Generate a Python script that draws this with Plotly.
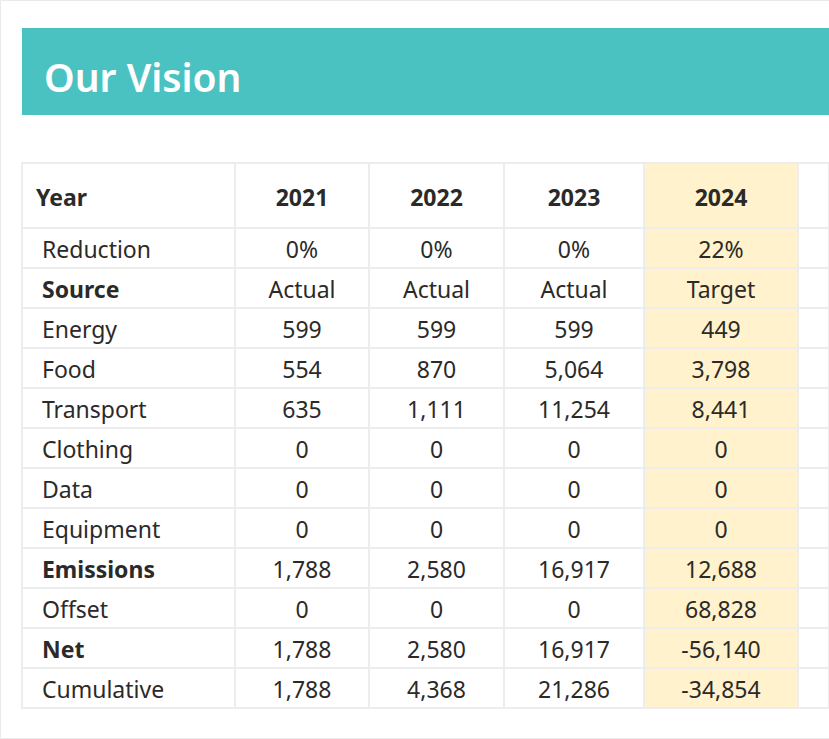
import plotly.graph_objects as go

W, H = 829, 739

years = ["2021", "2022", "2023", "2024"]
row_labels = ["Reduction", "Source", "Energy", "Food", "Transport", "Clothing",
              "Data", "Equipment", "Emissions", "Offset", "Net", "Cumulative"]
bold_rows = ["Source", "Emissions", "Net"]
col_2021 = ["0%", "Actual", "599", "554", "635", "0", "0", "0", "1,788", "0", "1,788", "1,788"]
col_2022 = ["0%", "Actual", "599", "870", "1,111", "0", "0", "0", "2,580", "0", "2,580", "4,368"]
col_2023 = ["0%", "Actual", "599", "5,064", "11,254", "0", "0", "0", "16,917", "0", "16,917", "21,286"]
col_2024 = ["22%", "Target", "449", "3,798", "8,441", "0", "0", "0", "12,688", "68,828", "-56,140", "-34,854"]

teal = "#4BC2C2"
target_fill = "#FFF2CC"
grid = "#EDEDED"
ink = "#2B2A29"
clear = "rgba(0,0,0,0)"

pad = "\u00a0" * 2
plain_labels = ["" if r in bold_rows else pad + r for r in row_labels]
bold_labels = [pad + r if r in bold_rows else "" for r in row_labels]
n = len(row_labels)

widths = [213, 134, 135, 140, 154, 31]
x0 = 22 / W
top, head_h, row_h = 163, 65, 40
head_shift, cell_shift = 10, 5      # plotly top-aligns text; nudge it to sit centred
aligns = ["left", "center", "center", "center", "center", "center"]
fills = ["white"] * 4 + [target_fill, "white"]
cell_font = dict(family="Noto Sans", size=23, color=ink)

fig = go.Figure()
# grid + fills
fig.add_trace(go.Table(
    domain=dict(x=[x0, 1], y=[0, 1 - top / H]),
    columnwidth=widths,
    header=dict(values=[""] * 6, fill_color=fills, line=dict(color=grid, width=2),
                font=cell_font, height=head_h),
    cells=dict(values=[[""] * n] * 6, fill_color=fills, line=dict(color=grid, width=2),
               font=cell_font, height=row_h),
))
# text layer
text_top = top + head_shift
fig.add_trace(go.Table(
    domain=dict(x=[x0, 1], y=[0, 1 - text_top / H]),
    columnwidth=widths,
    header=dict(
        values=["\u00a0<b>Year</b>"] + [f"<b>{y}</b>" for y in years] + [""],
        align=aligns, fill_color=clear, line=dict(color=clear, width=2),
        font=cell_font, height=head_h - head_shift + cell_shift,
    ),
    cells=dict(
        values=[plain_labels, col_2021, col_2022, col_2023, col_2024, [""] * n],
        align=aligns, fill_color=clear, line=dict(color=clear, width=2),
        font=cell_font, height=row_h,
    ),
))
# bold row labels laid over the first column
fig.add_trace(go.Table(
    domain=dict(x=[x0, x0 + widths[0] / W], y=[0, 1 - text_top / H]),
    header=dict(values=[""], fill_color=clear, line=dict(color=clear, width=2),
                font=cell_font, height=head_h - head_shift + cell_shift),
    cells=dict(values=[bold_labels], align="left", fill_color=clear,
               line=dict(color=clear, width=2),
               font=dict(family="Noto Sans", size=23, color=ink, weight=700),
               height=row_h),
))

# title band
fig.add_shape(type="rect", xref="paper", yref="paper",
              x0=x0, x1=1.02, y0=1 - 115 / H, y1=1 - 28 / H,
              fillcolor=teal, line=dict(width=0), layer="below")
# faint page frame
fig.add_shape(type="rect", xref="paper", yref="paper",
              x0=0.5 / W, x1=1.02, y0=0.5 / H, y1=1 - 0.5 / H,
              fillcolor=clear, line=dict(color="#EAEAEA", width=1))
fig.add_annotation(text="Our Vision", xref="paper", yref="paper",
                   x=42 / W, y=1 - 76 / H, xanchor="left", yanchor="middle",
                   showarrow=False,
                   font=dict(family="Noto Sans", size=39, color="white", weight=600))

fig.update_layout(width=W, height=H, margin=dict(l=0, r=0, t=0, b=0),
                  paper_bgcolor="white", plot_bgcolor="white")

fig.write_html("out.html", config={"displayModeBar": False},
               post_script="document.body.style.margin='0';")
